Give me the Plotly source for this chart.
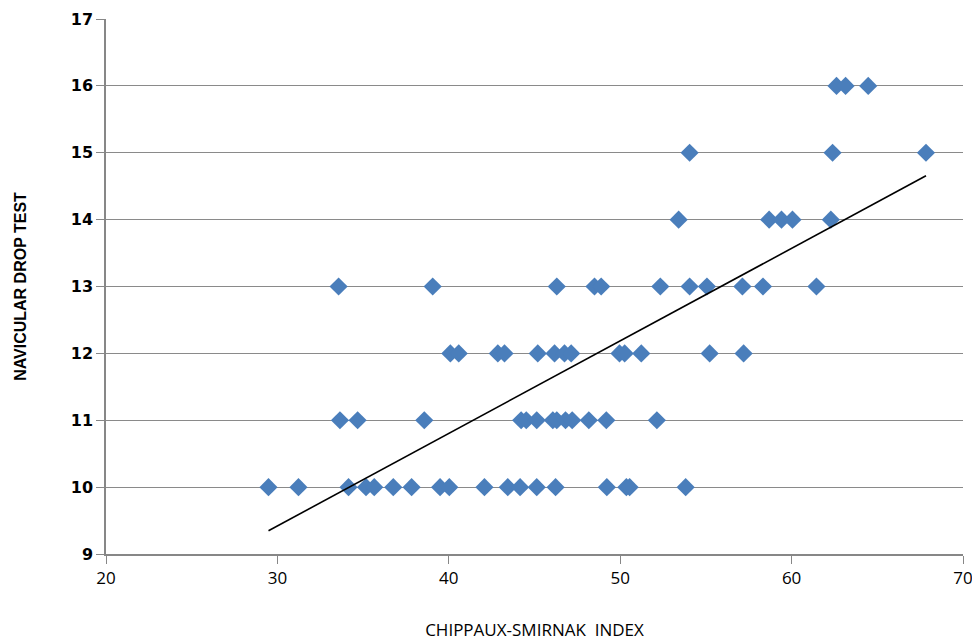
import numpy as np
import plotly.graph_objects as go

# Chippaux-Smirnak index values grouped by navicular drop test value
nd_10 = [29.48, 31.23, 34.15, 35.17, 35.65, 36.76, 37.83, 39.49, 40.03, 42.08,
         43.44, 44.16, 45.13, 46.23, 49.22, 50.36, 50.55, 53.82]
nd_11 = [33.65, 34.68, 38.57, 44.22, 44.52, 45.13, 46.07, 46.30, 46.81, 47.20,
         48.17, 49.19, 52.14]
nd_12 = [40.09, 40.58, 42.86, 43.25, 45.19, 46.17, 46.75, 47.14, 49.96, 50.26,
         51.23, 55.22, 57.20]
nd_13 = [33.57, 39.06, 46.30, 48.50, 48.89, 52.34, 54.05, 55.06, 57.13, 58.33, 61.45]
nd_14 = [53.41, 58.69, 59.41, 60.05, 62.29]
nd_15 = [54.05, 62.39, 67.84]
nd_16 = [62.62, 63.15, 64.47]

groups = {10: nd_10, 11: nd_11, 12: nd_12, 13: nd_13, 14: nd_14, 15: nd_15, 16: nd_16}
x_vals = []
y_vals = []
for yv, xs in groups.items():
    x_vals += xs
    y_vals += [yv] * len(xs)
x_vals = np.array(x_vals)
y_vals = np.array(y_vals, dtype=float)

slope, intercept = np.polyfit(x_vals, y_vals, 1)
line_x = np.array([x_vals.min(), x_vals.max()])
line_y = slope * line_x + intercept

fig = go.Figure()
fig.add_trace(go.Scatter(
    x=x_vals, y=y_vals, mode="markers",
    marker=dict(symbol="diamond", size=14, color="#4A7EBB", line=dict(width=0)),
    showlegend=False, hoverinfo="x+y"))
fig.add_trace(go.Scatter(
    x=line_x, y=line_y, mode="lines",
    line=dict(color="black", width=1.6), showlegend=False, hoverinfo="skip"))

fig.update_layout(
    width=972, height=634,
    margin=dict(l=98, r=17, t=11, b=88),
    paper_bgcolor="white", plot_bgcolor="white",
    xaxis=dict(range=[20, 70], dtick=10, showgrid=False, automargin=False,
               showline=True, linecolor="#878787", linewidth=1.5,
               ticks="outside", ticklen=8, tickcolor="#878787",
               tickfont=dict(family="Open Sans", size=17, color="#000"),
               title=dict(text="CHIPPAUX-SMIRNAK&nbsp;&nbsp;INDEX",
                          font=dict(family="Open Sans", size=17, color="#000"),
                          standoff=36),
               zeroline=False),
    yaxis=dict(range=[9, 17], dtick=1, showgrid=True, gridcolor="#8a8a8a", gridwidth=1.3,
               showline=True, linecolor="#878787", linewidth=1.5, automargin=False,
               ticks="outside", ticklen=8, tickcolor="#878787",
               tickfont=dict(family="DejaVu Sans", size=16, color="#000", weight="bold"),
               title=dict(text="NAVICULAR DROP TEST",
                          font=dict(family="Liberation Sans", size=16, color="#000", weight="bold"),
                          standoff=40),
               zeroline=False),
)
fig.write_html("out.html")
